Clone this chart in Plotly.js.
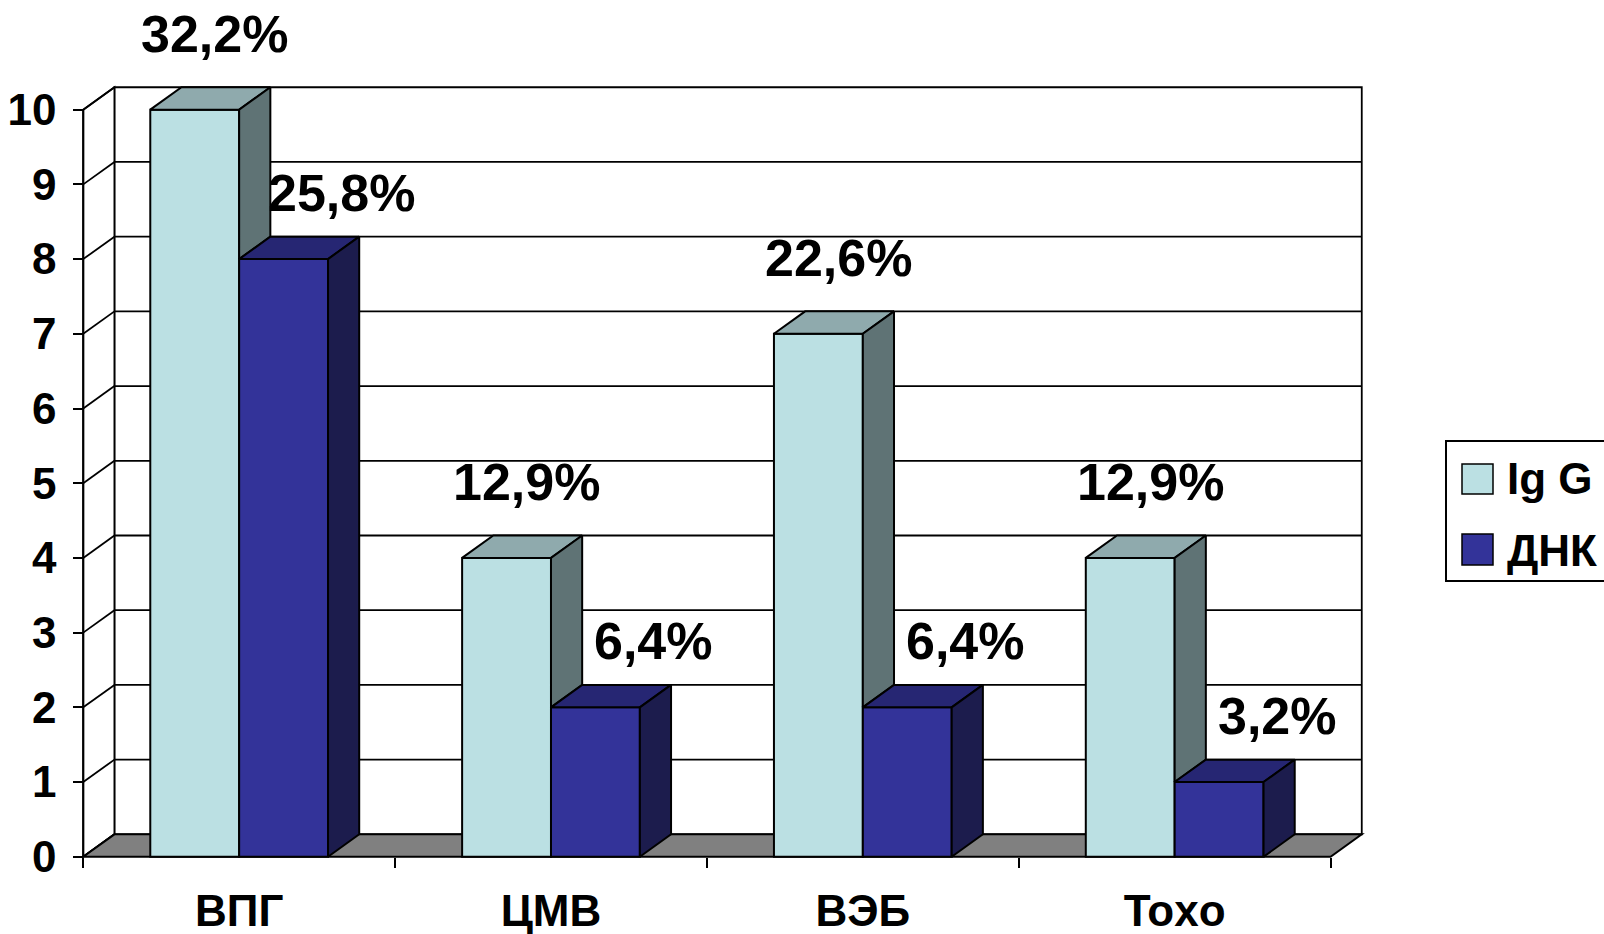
<!DOCTYPE html>
<html><head><meta charset="utf-8">
<script src="https://cdn.plot.ly/plotly-3.0.1.min.js"></script>
<style>html,body{margin:0;padding:0;background:#fff;overflow:hidden}#chart{width:1604px;height:934px}</style>
</head><body><div id="chart"></div>
<script>
// ---- data ----
const categories = ['ВПГ', 'ЦМВ', 'ВЭБ', 'Toxo'];
const seriesNames = ['Ig G', 'ДНК'];
const igG = [10, 4, 7, 4];
const dnk = [8, 2, 2, 1];
const igGLabels = ['32,2%', '12,9%', '22,6%', '12,9%'];
const dnkLabels = ['25,8%', '6,4%', '6,4%', '3,2%'];
const yTicks = [0, 1, 2, 3, 4, 5, 6, 7, 8, 9, 10];

// ---- style ----
const C = { igFront: '#BBE0E3', igTop: '#8FAAAD', igSide: '#5F7375',
            dnFront: '#333399', dnTop: '#262673', dnSide: '#1C1C4D',
            floor: '#808080', line: '#000000' };
const FONT = 'Liberation Sans, Arial, Helvetica, sans-serif';
const W = 0.285, DX = 0.1, DY = 0.3;           // bar width and 3D depth (axis units)
const xs = categories.map((_, i) => i);
const X0 = -0.5, X1 = categories.length - 0.5;
const YMAX = yTicks[yTicks.length - 1];
const PADX = 0.02, PADY = 0.03;
const xr = [X0 - PADX, X1 + DX + PADX];
const yr = [-PADY, YMAX + DY + PADY];
const M = { l: 77, r: 236, t: 85, b: 75 };
const plotW = 1604 - M.l - M.r, plotH = 934 - M.t - M.b;
const px2x = px => (px - M.l) / plotW;
const px2y = py => (934 - M.b - py) / plotH;

function polys(list) {
  const x = [], y = [];
  list.forEach(p => {
    p.forEach(q => { x.push(q[0]); y.push(q[1]); });
    x.push(p[0][0]); y.push(p[0][1]);
    x.push(null); y.push(null);
  });
  return { x, y };
}
function face(list, color) {
  const p = polys(list);
  return { type: 'scatter', mode: 'lines', x: p.x, y: p.y, fill: 'toself', fillcolor: color,
           line: { color: C.line, width: 2 }, hoverinfo: 'skip', showlegend: false };
}

const igTop = face(xs.map(i => [[i - W, igG[i]], [i, igG[i]], [i + DX, igG[i] + DY], [i - W + DX, igG[i] + DY]]), C.igTop);
const igSide = face(xs.map(i => [[i, dnk[i]], [i + DX, dnk[i] + DY], [i + DX, igG[i] + DY], [i, igG[i]]]), C.igSide);
const dnTop = face(xs.map(i => [[i, dnk[i]], [i + W, dnk[i]], [i + W + DX, dnk[i] + DY], [i + DX, dnk[i] + DY]]), C.dnTop);
const dnSide = face(xs.map(i => [[i + W, 0], [i + W + DX, DY], [i + W + DX, dnk[i] + DY], [i + W, dnk[i]]]), C.dnSide);

const traces = [
  { type: 'bar', name: seriesNames[0], x: xs, y: igG, offset: -W, width: W,
    marker: { color: C.igFront, line: { color: C.line, width: 2 } }, showlegend: false },
  { type: 'bar', name: seriesNames[1], x: xs, y: dnk, offset: 0, width: W,
    marker: { color: C.dnFront, line: { color: C.line, width: 2 } }, showlegend: false },
  igTop, igSide, dnTop, dnSide
];

// ---- walls, floor, gridlines ----
const LW = 1.8;
const shapes = [];
shapes.push({ type: 'rect', xref: 'x', yref: 'y', x0: X0 + DX, x1: X1 + DX, y0: DY, y1: YMAX + DY,
  fillcolor: '#fff', line: { color: C.line, width: LW }, layer: 'below' });
shapes.push({ type: 'path', xref: 'x', yref: 'y',
  path: `M${X0},0 L${X0 + DX},${DY} L${X0 + DX},${YMAX + DY} L${X0},${YMAX} Z`,
  fillcolor: '#fff', line: { color: C.line, width: LW }, layer: 'below' });
yTicks.forEach(k => {
  if (k > 0 && k < YMAX) shapes.push({ type: 'line', xref: 'x', yref: 'y', x0: X0 + DX, x1: X1 + DX, y0: k + DY, y1: k + DY,
    line: { color: C.line, width: LW }, layer: 'below' });
  shapes.push({ type: 'line', xref: 'x', yref: 'y', x0: X0, x1: X0 + DX, y0: k, y1: k + DY,
    line: { color: C.line, width: LW }, layer: 'below' });
});
shapes.push({ type: 'path', xref: 'x', yref: 'y',
  path: `M${X0},0 L${X1},0 L${X1 + DX},${DY} L${X0 + DX},${DY} Z`,
  fillcolor: C.floor, line: { color: C.line, width: 2 }, layer: 'below' });
shapes.push({ type: 'line', xref: 'x', yref: 'y', x0: X0, x1: X0, y0: 0, y1: YMAX,
  line: { color: C.line, width: 2 }, layer: 'below' });

// ---- legend (drawn manually for large swatches) ----
shapes.push({ type: 'rect', xref: 'paper', yref: 'paper', x0: px2x(1446), x1: px2x(1650), y0: px2y(581), y1: px2y(441),
  fillcolor: '#fff', line: { color: C.line, width: 2 }, layer: 'above' });
const legendRows = [[464, 494, C.igFront, 479], [534, 565, C.dnFront, 550]];
legendRows.forEach((r, j) => {
  shapes.push({ type: 'rect', xref: 'paper', yref: 'paper', x0: px2x(1462), x1: px2x(1493), y0: px2y(r[1]), y1: px2y(r[0]),
    fillcolor: r[2], line: { color: C.line, width: 1.5 }, layer: 'above' });
});

// ---- annotations ----
const annotations = [];
xs.forEach(i => {
  annotations.push({ x: i - W / 2, y: igG[i], xref: 'x', yref: 'y', text: igGLabels[i], showarrow: false,
    xshift: 20, yshift: 76, font: { family: FONT, size: 52, color: '#000', weight: 'bold' } });
  annotations.push({ x: i + W / 2, y: dnk[i], xref: 'x', yref: 'y', text: dnkLabels[i], showarrow: false,
    xshift: 58, yshift: 66, font: { family: FONT, size: 52, color: '#000', weight: 'bold' } });
});
legendRows.forEach((r, j) => {
  annotations.push({ x: px2x(1505), y: px2y(r[3]), xref: 'paper', yref: 'paper', xanchor: 'left', yanchor: 'middle',
    text: seriesNames[j], showarrow: false, font: { family: FONT, size: 44, color: '#000', weight: 'bold' } });
});

const tickFont = { family: FONT, size: 44, color: '#000', weight: 'bold' };
const layout = {
  width: 1604, height: 934,
  margin: { l: M.l, r: M.r, t: M.t, b: M.b, autoexpand: false },
  paper_bgcolor: '#fff', plot_bgcolor: 'rgba(0,0,0,0)',
  font: { family: FONT, color: '#000' },
  barmode: 'overlay',
  showlegend: false,
  xaxis: { range: xr, showgrid: false, zeroline: false, showline: false,
    anchor: 'free', position: PADY / (yr[1] - yr[0]),
    tickmode: 'array', tickvals: xs, ticktext: categories, ticks: '',
    tickfont: tickFont, ticklabelstandoff: 24,
    minor: { tickmode: 'array', tickvals: [...xs.map(i => i - 0.5), X1], ticks: 'outside', ticklen: 10,
             tickwidth: 2, tickcolor: '#000', showgrid: false } },
  yaxis: { range: yr, showgrid: false, zeroline: false, showline: false,
    anchor: 'free', position: PADX / (xr[1] - xr[0]),
    tickmode: 'array', tickvals: yTicks, ticks: 'outside', ticklen: 10, tickwidth: 2, tickcolor: '#000',
    tickfont: tickFont, ticklabelstandoff: 8 },
  shapes: shapes,
  annotations: annotations
};

Plotly.newPlot('chart', traces, layout, { displayModeBar: false, staticPlot: true });
</script>
</body></html>
